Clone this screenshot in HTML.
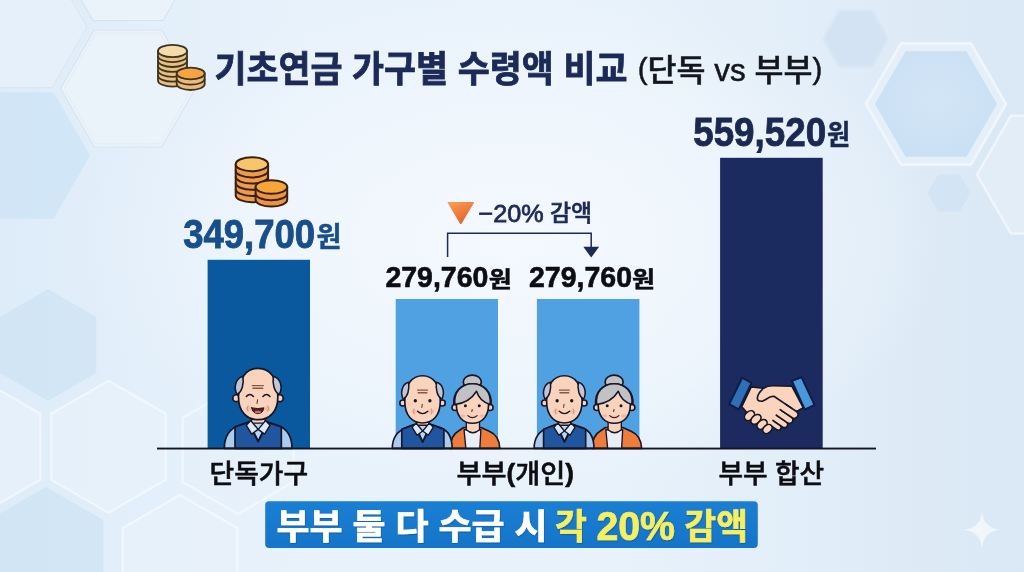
<!DOCTYPE html>
<html lang="ko">
<head>
<meta charset="utf-8">
<title>기초연금 가구별 수령액 비교</title>
<style>
html,body{margin:0;padding:0;width:1024px;height:572px;overflow:hidden;background:#eaf1f9;}
svg{display:block;position:absolute;left:0;top:0;}
text{font-family:"Liberation Sans","Noto Sans CJK KR",sans-serif;}
.kr{font-family:"Liberation Sans","Noto Sans CJK KR",sans-serif;}
</style>
</head>
<body>
<svg width="1024" height="572" viewBox="0 0 1024 572">
<defs>
<linearGradient id="bg" x1="0" y1="0" x2="1" y2="0">
<stop offset="0" stop-color="#deecf9"/>
<stop offset="0.3" stop-color="#e8f2fb"/>
<stop offset="0.6" stop-color="#e8f2fb"/>
<stop offset="1" stop-color="#dae8f5"/>
</linearGradient>
<radialGradient id="glow" cx="512" cy="240" r="430" gradientUnits="userSpaceOnUse" gradientTransform="translate(0 96) scale(1 0.6)">
<stop offset="0" stop-color="#f4f9fe" stop-opacity="1"/>
<stop offset="0.6" stop-color="#f1f7fd" stop-opacity="0.7"/>
<stop offset="1" stop-color="#eef5fc" stop-opacity="0"/>
</radialGradient>
<radialGradient id="hexg" cx="0.5" cy="0.45" r="0.6">
<stop offset="0" stop-color="#d3e6f7"/><stop offset="1" stop-color="#c9dff3"/>
</radialGradient>
<filter id="blur2" x="-20%" y="-20%" width="140%" height="140%"><feGaussianBlur stdDeviation="1.2"/></filter>
<linearGradient id="tri" x1="0" y1="0" x2="0.6" y2="1"><stop offset="0" stop-color="#f8a252"/><stop offset="1" stop-color="#e55f2c"/></linearGradient>
<linearGradient id="ban" x1="0" y1="0" x2="0" y2="1"><stop offset="0" stop-color="#1a7fd3"/><stop offset="1" stop-color="#1575c8"/></linearGradient>
<filter id="ts" x="-5%" y="-20%" width="110%" height="150%"><feDropShadow dx="0.8" dy="1.2" stdDeviation="0.35" flood-color="#0c4f96" flood-opacity="0.6"/></filter>
</defs>
<rect width="1024" height="572" fill="url(#bg)"/>
<rect width="1024" height="572" fill="url(#glow)"/>
<polygon points="90.0,155.5 53.5,218.7 -19.5,218.7 -56.0,155.5 -19.5,92.3 53.5,92.3" fill="#cfe4f5" stroke="none" stroke-width="0" opacity="0.9" />
<polygon points="87.0,27.0 52.0,87.6 -18.0,87.6 -53.0,27.0 -18.0,-33.6 52.0,-33.6" fill="#e9f2fb" stroke="#d9e4ef" stroke-width="1.2" opacity="0.7" />
<polygon points="195.5,88.5 161.8,147.0 94.3,147.0 60.5,88.5 94.2,30.0 161.8,30.0" fill="#edf4fb" stroke="#d6e1ed" stroke-width="1.2" opacity="0.8" />
<polygon points="192.0,88.5 160.0,143.9 96.0,143.9 64.0,88.5 96.0,33.1 160.0,33.1" fill="none" stroke="#e0e8f2" stroke-width="1" opacity="0.7" />
<polygon points="198.0,-40.0 163.0,20.6 93.0,20.6 58.0,-40.0 93.0,-100.6 163.0,-100.6" fill="#edf4fb" stroke="#d6e1ed" stroke-width="1.2" opacity="0.8" />
<polygon points="96.2,372.9 48.0,400.7 -0.2,372.9 -0.2,317.1 48.0,289.3 96.2,317.1" fill="#cfe4f5" stroke="none" stroke-width="0" opacity="0.85" />
<polygon points="165.7,479.7 108.5,512.7 51.3,479.7 51.3,413.7 108.5,380.7 165.7,413.7" fill="#e9f2fb" stroke="#f6fafe" stroke-width="2.2" opacity="0.75" />
<polygon points="40.2,479.7 -17.0,512.7 -74.2,479.7 -74.2,413.7 -17.0,380.7 40.2,413.7" fill="#e9f2fb" stroke="#f6fafe" stroke-width="2.2" opacity="0.75" />
<polygon points="103.2,586.0 46.0,619.0 -11.2,586.0 -11.2,520.0 46.0,487.0 103.2,520.0" fill="#cfe4f5" stroke="none" stroke-width="0" opacity="0.85" />
<polygon points="237.2,594.0 180.0,627.0 122.8,594.0 122.8,528.0 180.0,495.0 237.2,528.0" fill="#e9f2fb" stroke="#f6fafe" stroke-width="2.2" opacity="0.75" />
<polygon points="293.4,482.0 238.0,514.0 182.6,482.0 182.6,418.0 238.0,386.0 293.4,418.0" fill="none" stroke="#f6fafe" stroke-width="2.2" opacity="0.7" />
<polygon points="888.7,38.6 872.2,67.2 839.2,67.2 822.7,38.6 839.2,10.0 872.2,10.0" fill="#d3e3f3" stroke="none" stroke-width="0" opacity="0.9" filter="url(#blur2)"/>
<polygon points="1006.0,104.0 971.0,164.6 901.0,164.6 866.0,104.0 901.0,43.4 971.0,43.4" fill="#e6f0fa" stroke="#f2f7fc" stroke-width="2.5" opacity="0.95" />
<polygon points="997.0,104.0 966.5,156.8 905.5,156.8 875.0,104.0 905.5,51.2 966.5,51.2" fill="url(#hexg)" stroke="none" stroke-width="0" opacity="1" />
<polygon points="970.5,193.0 959.8,211.6 938.2,211.6 927.5,193.0 938.2,174.4 959.8,174.4" fill="#d1e3f4" stroke="none" stroke-width="0" opacity="0.9" />
<polygon points="1113.0,174.7 1079.0,233.6 1011.0,233.6 977.0,174.7 1011.0,115.8 1079.0,115.8" fill="#e4eef9" stroke="#f2f7fc" stroke-width="2.5" opacity="0.9" />
<!-- bars -->
<rect x="207.6" y="259.8" width="102.4" height="188.5" fill="#0a599f"/>
<rect x="395.7" y="299" width="102.3" height="149.3" fill="#4fa1e2"/>
<rect x="536.9" y="299" width="102.5" height="149.3" fill="#4fa1e2"/>
<rect x="720.1" y="157.8" width="102.6" height="290.5" fill="#1c2b5f"/>
<path d="M158.0 51.0 V80.4 A14.5 6.2 0 0 0 187.0 80.4 V51.0 Z" fill="#e9c080" stroke="#3b3423" stroke-width="1.8" stroke-linejoin="round"/>
<path d="M158.0 55.9 A14.5 6.2 0 0 0 187.0 55.9" fill="none" stroke="#3b3423" stroke-width="1.8"/>
<path d="M158.0 60.8 A14.5 6.2 0 0 0 187.0 60.8" fill="none" stroke="#3b3423" stroke-width="1.8"/>
<path d="M158.0 65.7 A14.5 6.2 0 0 0 187.0 65.7" fill="none" stroke="#3b3423" stroke-width="1.8"/>
<path d="M158.0 70.6 A14.5 6.2 0 0 0 187.0 70.6" fill="none" stroke="#3b3423" stroke-width="1.8"/>
<path d="M158.0 75.5 A14.5 6.2 0 0 0 187.0 75.5" fill="none" stroke="#3b3423" stroke-width="1.8"/>
<ellipse cx="172.5" cy="51" rx="14.5" ry="6.2" fill="#f3dcaa" stroke="#3b3423" stroke-width="1.8"/>
<path d="M176.7 73.5 V84.1 A14 5.9 0 0 0 204.7 84.1 V73.5 Z" fill="#ebbb78" stroke="#3b3423" stroke-width="1.8" stroke-linejoin="round"/>
<path d="M176.7 78.8 A14 5.9 0 0 0 204.7 78.8" fill="none" stroke="#3b3423" stroke-width="1.8"/>
<ellipse cx="190.7" cy="73.5" rx="14" ry="5.9" fill="#f5a440" stroke="#3b3423" stroke-width="1.8"/>
<path d="M235.7 164.2 V195.2 A16.2 7 0 0 0 268.1 195.2 V164.2 Z" fill="#ec9c4c" stroke="#3a1f12" stroke-width="2" stroke-linejoin="round"/>
<path d="M235.7 170.4 A16.2 7 0 0 0 268.1 170.4" fill="none" stroke="#3a1f12" stroke-width="2"/>
<path d="M235.7 176.6 A16.2 7 0 0 0 268.1 176.6" fill="none" stroke="#3a1f12" stroke-width="2"/>
<path d="M235.7 182.8 A16.2 7 0 0 0 268.1 182.8" fill="none" stroke="#3a1f12" stroke-width="2"/>
<path d="M235.7 189.0 A16.2 7 0 0 0 268.1 189.0" fill="none" stroke="#3a1f12" stroke-width="2"/>
<ellipse cx="251.9" cy="164.2" rx="16.2" ry="7" fill="#f7c56c" stroke="#3a1f12" stroke-width="2"/>
<path d="M255.6 187.0 V199.8 A15.8 6.8 0 0 0 287.2 199.8 V187.0 Z" fill="#ea9444" stroke="#3a1f12" stroke-width="2" stroke-linejoin="round"/>
<path d="M255.6 193.4 A15.8 6.8 0 0 0 287.2 193.4" fill="none" stroke="#3a1f12" stroke-width="2"/>
<ellipse cx="271.4" cy="187" rx="15.8" ry="6.8" fill="#f6a638" stroke="#3a1f12" stroke-width="2"/>
<g transform="translate(218,362) scale(0.15748)" stroke="#161628" stroke-width="11" stroke-linejoin="round" stroke-linecap="round">
<path d="M40 548 C40 470 72 425 135 402 L205 378 H305 L378 402 C440 425 470 470 470 548 Z" fill="#a9cbec"/>
<rect x="212" y="340" width="88" height="70" fill="#f9d3bb"/>
<path d="M108 548 V412 L192 384 L255 505 L318 384 L402 412 V548 Z" fill="#20559f"/>
<path d="M200 388 L255 500 L310 388 Z" fill="#b9d7f0" stroke-width="9"/>
<path d="M208 372 L180 402 L214 458 L255 428 Z" fill="#dce9f6" stroke-width="9"/>
<path d="M302 372 L330 402 L296 458 L255 428 Z" fill="#dce9f6" stroke-width="9"/>
<circle cx="116" cy="230" r="22" fill="#f9d3bb"/>
<circle cx="392" cy="230" r="22" fill="#f9d3bb"/>
<path d="M130 220 C130 100 180 40 255 40 C330 40 380 100 380 220 C380 312 330 366 255 366 C180 366 130 312 130 220 Z" fill="#f9d3bb"/>
<path d="M158 90 C108 105 98 168 122 206 C152 190 166 140 158 90 Z" fill="#c0c7d4" stroke-width="10"/>
<path d="M352 90 C402 105 412 168 388 206 C358 190 344 140 352 90 Z" fill="#c0c7d4" stroke-width="10"/>
<ellipse cx="196" cy="296" rx="20" ry="15" fill="#f0a994" stroke="none" opacity="0.45"/>
<ellipse cx="312" cy="296" rx="20" ry="15" fill="#f0a994" stroke="none" opacity="0.45"/>
<path d="M218 150 H288 M222 167 H284" stroke="#855848" stroke-width="9" fill="none"/>
<path d="M180 219 Q202 194 225 219 M285 219 Q308 194 330 219" fill="none" stroke-width="9"/>
<path d="M251 240 L248 263" fill="none" stroke="#3a2420" stroke-width="6"/>
<path d="M214 291 Q253 301 291 291 Q287 326 253 328 Q219 326 214 291 Z" fill="#5a1d22" stroke-width="6"/>
<ellipse cx="253" cy="318" rx="20" ry="8" fill="#e26a5c" stroke="none"/>
<path d="M190 278 Q180 295 190 312 M316 278 Q326 295 316 312" fill="none" stroke="#b98470" stroke-width="5"/>
</g>
<g transform="translate(386,366) scale(0.15038)" stroke="#161628" stroke-width="11" stroke-linejoin="round" stroke-linecap="round">
<!-- woman -->
<path d="M428 548 C428 492 446 452 482 432 L516 409 H632 L690 436 C736 456 755 496 757 548 Z" fill="#ee7c3a"/>
<path d="M519 424 L531 548 H624 L631 424 Z" fill="#e9eef6" stroke-width="9"/>
<path d="M534 360 V424 Q577 464 622 424 V360 Z" fill="#f9d3bb" stroke-width="9"/>
<ellipse cx="574" cy="107" rx="60" ry="46" fill="#c2c2c5"/>
<path d="M451 255 C446 170 500 118 575 118 C650 118 704 170 699 255 C699 275 694 284 686 288 L464 288 C456 284 451 275 451 255 Z" fill="#c2c2c5"/>
<circle cx="459" cy="276" r="20" fill="#f9d3bb"/>
<circle cx="692" cy="276" r="20" fill="#f9d3bb"/>
<path d="M468 258 C468 182 520 150 575 150 C630 150 682 182 682 258 C682 336 637 381 575 381 C513 381 468 336 468 258 Z" fill="#f9d3bb"/>
<path d="M602 168 C566 226 514 250 458 256 C448 176 500 118 575 118 C650 118 702 176 692 256 C652 244 617 218 602 168 Z" fill="#c2c2c5" stroke-width="10"/>
<circle cx="528" cy="265" r="10" fill="#161628" stroke="none"/>
<circle cx="620" cy="265" r="10" fill="#161628" stroke="none"/>
<path d="M573 290 L571 302" fill="none" stroke="#3a2420" stroke-width="7"/>
<path d="M544 330 Q575 358 606 330" fill="#f3b0a0" stroke-width="7"/>
<ellipse cx="510" cy="332" rx="18" ry="11" fill="#f0a79c" stroke="none" opacity="0.65"/>
<ellipse cx="640" cy="332" rx="18" ry="11" fill="#f0a79c" stroke="none" opacity="0.65"/>
<!-- man -->
<path d="M42 548 C42 472 76 432 132 410 L200 386 H290 L360 410 C420 430 440 480 440 548 Z" fill="#a9cbec"/>
<rect x="204" y="350" width="82" height="66" fill="#f9d3bb"/>
<path d="M105 548 V420 L186 390 L244 506 L302 390 L385 420 V548 Z" fill="#20559f"/>
<path d="M194 394 L244 500 L294 394 Z" fill="#b9d7f0" stroke-width="9"/>
<path d="M200 380 L174 408 L206 460 L244 432 Z" fill="#dce9f6" stroke-width="9"/>
<path d="M288 380 L314 408 L282 460 L244 432 Z" fill="#dce9f6" stroke-width="9"/>
<circle cx="112" cy="246" r="20" fill="#f9d3bb"/>
<circle cx="374" cy="246" r="20" fill="#f9d3bb"/>
<path d="M125 235 C125 120 175 65 243 65 C311 65 361 120 361 235 C361 326 315 379 243 379 C171 379 125 326 125 235 Z" fill="#f9d3bb"/>
<path d="M150 108 C104 120 94 182 115 220 C144 204 158 156 150 108 Z" fill="#c0c7d4" stroke-width="10"/>
<path d="M336 108 C382 120 392 182 371 220 C342 204 328 156 336 108 Z" fill="#c0c7d4" stroke-width="10"/>
<ellipse cx="188" cy="302" rx="19" ry="14" fill="#f0a994" stroke="none" opacity="0.45"/>
<ellipse cx="300" cy="302" rx="19" ry="14" fill="#f0a994" stroke="none" opacity="0.45"/>
<path d="M210 160 H276 M214 178 H272" stroke="#855848" stroke-width="9" fill="none"/>
<circle cx="195" cy="231" r="11" fill="#161628" stroke="none"/>
<circle cx="292" cy="231" r="11" fill="#161628" stroke="none"/>
<path d="M241 255 L238 276" fill="none" stroke="#3a2420" stroke-width="6"/>
<path d="M210 301 Q243 332 278 301" fill="none" stroke-width="9"/>
<path d="M186 285 Q176 302 186 320 M302 285 Q312 302 302 320" fill="none" stroke="#b98470" stroke-width="5"/>
</g>
<g transform="translate(527.8,366) scale(0.15038)" stroke="#161628" stroke-width="11" stroke-linejoin="round" stroke-linecap="round">
<!-- woman -->
<path d="M428 548 C428 492 446 452 482 432 L516 409 H632 L690 436 C736 456 755 496 757 548 Z" fill="#ee7c3a"/>
<path d="M519 424 L531 548 H624 L631 424 Z" fill="#e9eef6" stroke-width="9"/>
<path d="M534 360 V424 Q577 464 622 424 V360 Z" fill="#f9d3bb" stroke-width="9"/>
<ellipse cx="574" cy="107" rx="60" ry="46" fill="#c2c2c5"/>
<path d="M451 255 C446 170 500 118 575 118 C650 118 704 170 699 255 C699 275 694 284 686 288 L464 288 C456 284 451 275 451 255 Z" fill="#c2c2c5"/>
<circle cx="459" cy="276" r="20" fill="#f9d3bb"/>
<circle cx="692" cy="276" r="20" fill="#f9d3bb"/>
<path d="M468 258 C468 182 520 150 575 150 C630 150 682 182 682 258 C682 336 637 381 575 381 C513 381 468 336 468 258 Z" fill="#f9d3bb"/>
<path d="M602 168 C566 226 514 250 458 256 C448 176 500 118 575 118 C650 118 702 176 692 256 C652 244 617 218 602 168 Z" fill="#c2c2c5" stroke-width="10"/>
<circle cx="528" cy="265" r="10" fill="#161628" stroke="none"/>
<circle cx="620" cy="265" r="10" fill="#161628" stroke="none"/>
<path d="M573 290 L571 302" fill="none" stroke="#3a2420" stroke-width="7"/>
<path d="M544 330 Q575 358 606 330" fill="#f3b0a0" stroke-width="7"/>
<ellipse cx="510" cy="332" rx="18" ry="11" fill="#f0a79c" stroke="none" opacity="0.65"/>
<ellipse cx="640" cy="332" rx="18" ry="11" fill="#f0a79c" stroke="none" opacity="0.65"/>
<!-- man -->
<path d="M42 548 C42 472 76 432 132 410 L200 386 H290 L360 410 C420 430 440 480 440 548 Z" fill="#a9cbec"/>
<rect x="204" y="350" width="82" height="66" fill="#f9d3bb"/>
<path d="M105 548 V420 L186 390 L244 506 L302 390 L385 420 V548 Z" fill="#20559f"/>
<path d="M194 394 L244 500 L294 394 Z" fill="#b9d7f0" stroke-width="9"/>
<path d="M200 380 L174 408 L206 460 L244 432 Z" fill="#dce9f6" stroke-width="9"/>
<path d="M288 380 L314 408 L282 460 L244 432 Z" fill="#dce9f6" stroke-width="9"/>
<circle cx="112" cy="246" r="20" fill="#f9d3bb"/>
<circle cx="374" cy="246" r="20" fill="#f9d3bb"/>
<path d="M125 235 C125 120 175 65 243 65 C311 65 361 120 361 235 C361 326 315 379 243 379 C171 379 125 326 125 235 Z" fill="#f9d3bb"/>
<path d="M150 108 C104 120 94 182 115 220 C144 204 158 156 150 108 Z" fill="#c0c7d4" stroke-width="10"/>
<path d="M336 108 C382 120 392 182 371 220 C342 204 328 156 336 108 Z" fill="#c0c7d4" stroke-width="10"/>
<ellipse cx="188" cy="302" rx="19" ry="14" fill="#f0a994" stroke="none" opacity="0.45"/>
<ellipse cx="300" cy="302" rx="19" ry="14" fill="#f0a994" stroke="none" opacity="0.45"/>
<path d="M210 160 H276 M214 178 H272" stroke="#855848" stroke-width="9" fill="none"/>
<circle cx="195" cy="231" r="11" fill="#161628" stroke="none"/>
<circle cx="292" cy="231" r="11" fill="#161628" stroke="none"/>
<path d="M241 255 L238 276" fill="none" stroke="#3a2420" stroke-width="6"/>
<path d="M210 301 Q243 332 278 301" fill="none" stroke-width="9"/>
<path d="M186 285 Q176 302 186 320 M302 285 Q312 302 302 320" fill="none" stroke="#b98470" stroke-width="5"/>
</g>
<g transform="translate(738,384) scale(0.09446)" stroke="#161628" stroke-width="17" stroke-linejoin="round" stroke-linecap="round">
<!-- base palm silhouette -->
<path d="M140 30 L270 45 C300 25 330 18 370 18 L570 22 L690 250 L640 280 L600 300 L440 400 L330 480 L120 330 L40 240 Z" fill="#fad4bc"/>
<path d="M388 398 L446 437 A29 29 0 0 1 414 485 L356 446" fill="#fad4bc"/>
<path d="M407 332 L511 401 A33 33 0 0 1 474 456 L370 386" fill="#fad4bc"/>
<path d="M446 271 L565 351 A36 36 0 0 1 525 411 L406 330" fill="#fad4bc"/>
<path d="M503 213 L619 291 A40 40 0 0 1 574 357 L458 279" fill="#fad4bc"/>
<!-- thumb + top finger line -->
<path d="M270 45 C230 80 205 120 205 150 C205 185 250 190 285 170 C320 145 340 128 380 130 L570 258" fill="none"/>
<!-- knuckles -->
<g>
<ellipse cx="122" cy="335" rx="60" ry="43" transform="rotate(-42 122 335)" fill="#fad4bc"/>
<ellipse cx="190" cy="375" rx="62" ry="43" transform="rotate(-42 190 375)" fill="#fad4bc"/>
<ellipse cx="255" cy="428" rx="60" ry="43" transform="rotate(-42 255 428)" fill="#fad4bc"/>
<ellipse cx="312" cy="476" rx="55" ry="41" transform="rotate(-42 312 476)" fill="#fad4bc"/>
</g>
</g>
<!-- cuffs -->
<path d="M742.1 377.7 L751.5 382.9 L738.8 409.4 L729.1 404.2 Z" fill="#2e6fb8" stroke="#0f1c44" stroke-width="2" stroke-linejoin="round"/>
<path d="M791.9 380.9 L801.6 377.3 L814.5 404.9 L804.8 409.7 Z" fill="#4a98dc" stroke="#0f1c44" stroke-width="2" stroke-linejoin="round"/>

<!-- baseline -->
<rect x="157" y="447.6" width="719" height="1.9" fill="#14161f"/>
<!-- title -->
<text x="214.4" y="81.6" font-size="36.5" font-weight="700" fill="#1c2a58" stroke="#1c2a58" stroke-width="0.8" textLength="413" lengthAdjust="spacingAndGlyphs">기초연금 가구별 수령액 비교</text>
<text x="637.8" y="80.6" font-size="31" font-weight="500" fill="#14161e" stroke="#14161e" stroke-width="0.5" textLength="184.5" lengthAdjust="spacingAndGlyphs"><tspan font-size="29" dy="-1.5">(</tspan><tspan dy="1.5">단독 vs 부부</tspan><tspan font-size="29" dy="-1.5">)</tspan></text>
<!-- numbers -->
<text x="183.2" y="247.7" font-size="41" font-weight="700" fill="#184e8a" stroke="#184e8a" stroke-width="0.9" textLength="132" lengthAdjust="spacingAndGlyphs">349,700</text>
<text x="316.5" y="246.6" font-size="28" font-weight="700" fill="#184e8a" stroke="#184e8a" stroke-width="0.5" textLength="25" lengthAdjust="spacingAndGlyphs">원</text>
<text x="385.4" y="287.2" font-size="29" font-weight="700" fill="#0d0d12" stroke="#0d0d12" stroke-width="0.6" textLength="103" lengthAdjust="spacingAndGlyphs">279,760</text>
<text x="488.8" y="286.8" font-size="22" font-weight="700" fill="#0d0d12" stroke="#0d0d12" stroke-width="0.5" textLength="23" lengthAdjust="spacingAndGlyphs">원</text>
<text x="529" y="287.2" font-size="29" font-weight="700" fill="#0d0d12" stroke="#0d0d12" stroke-width="0.6" textLength="103" lengthAdjust="spacingAndGlyphs">279,760</text>
<text x="632" y="286.8" font-size="22" font-weight="700" fill="#0d0d12" stroke="#0d0d12" stroke-width="0.5" textLength="23" lengthAdjust="spacingAndGlyphs">원</text>
<text x="693.2" y="146.2" font-size="40.5" font-weight="700" fill="#1b2850" stroke="#1b2850" stroke-width="0.9" textLength="133" lengthAdjust="spacingAndGlyphs">559,520</text>
<text x="827" y="145" font-size="28" font-weight="700" fill="#1b2850" stroke="#1b2850" stroke-width="0.5" textLength="23.2" lengthAdjust="spacingAndGlyphs">원</text>
<!-- reduction -->
<path d="M448.2 202.6 L473.4 202.6 L460.8 223.6 Z" fill="url(#tri)" stroke="url(#tri)" stroke-width="1.2" stroke-linejoin="round"/>
<text x="478.5" y="221" font-size="22.5" font-weight="500" fill="#1c2a58" stroke="#1c2a58" stroke-width="0.55" textLength="113.5" lengthAdjust="spacingAndGlyphs"><tspan font-size="24.8" dy="1.2" stroke-width="0.8">−20%</tspan><tspan dy="-1.2"> 감액</tspan></text>
<path d="M447.6 257 V233.3 H591.2 V248" fill="none" stroke="#1c2a58" stroke-width="1.5"/>
<path d="M583.3 246.8 H599.1 L591.2 257.6 Z" fill="#1c2a58"/>
<!-- labels -->
<text x="209.6" y="483.4" font-size="26.6" font-weight="500" fill="#0d0d12" stroke="#0d0d12" stroke-width="0.55" textLength="98.5" lengthAdjust="spacingAndGlyphs">단독가구</text>
<text x="456.4" y="483.4" font-size="26.6" font-weight="500" fill="#0d0d12" stroke="#0d0d12" stroke-width="0.55" textLength="117.5" lengthAdjust="spacingAndGlyphs">부부<tspan font-weight="700" font-size="25.5" dy="-1.8">(</tspan><tspan dy="1.8">개인</tspan><tspan font-weight="700" font-size="25.5" dy="-1.8">)</tspan></text>
<text x="718.4" y="483.4" font-size="26.6" font-weight="500" fill="#0d0d12" stroke="#0d0d12" stroke-width="0.55" textLength="105.8" lengthAdjust="spacingAndGlyphs">부부 합산</text>
<!-- banner -->
<rect x="265.2" y="501.3" width="492.6" height="46.6" rx="4" fill="url(#ban)"/>
<text x="276.6" y="538.9" font-size="35" font-weight="700" fill="#ffffff" stroke="#ffffff" stroke-width="0.7" filter="url(#ts)" textLength="271" lengthAdjust="spacingAndGlyphs">부부 둘 다 수급 시</text>
<text x="555.3" y="538.9" font-size="35" font-weight="700" fill="#f6ef5e" stroke="#f6ef5e" stroke-width="0.7" filter="url(#ts)" textLength="192.5" lengthAdjust="spacingAndGlyphs">각 <tspan font-size="40" dy="1">20%</tspan><tspan dy="-1"> 감액</tspan></text>
<!-- sparkle -->
<path d="M982 511.5 C983.5 523 988.5 528.2 1000 529.8 C988.5 531.4 983.5 536.6 982 548.2 C980.5 536.6 975.5 531.4 964 529.8 C975.5 528.2 980.5 523 982 511.5 Z" fill="#ffffff" opacity="0.6"/>
</svg>
</body>
</html>
